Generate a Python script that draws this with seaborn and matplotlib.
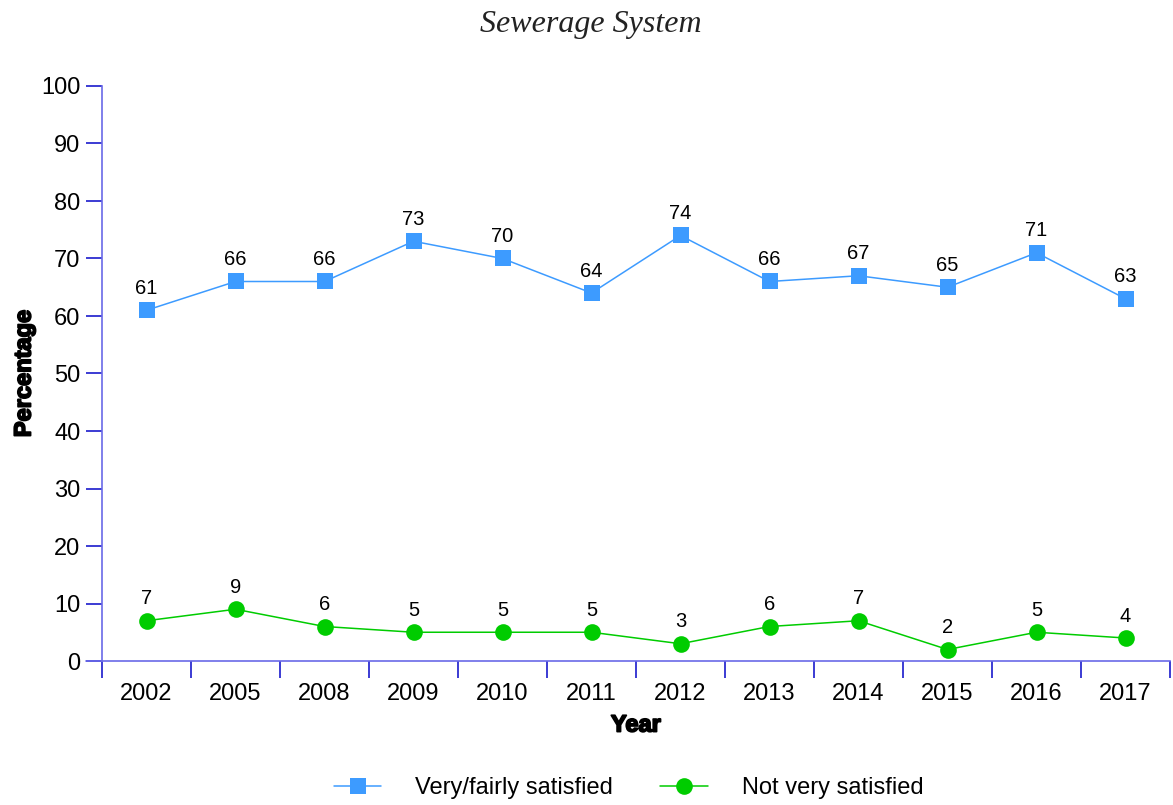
import matplotlib
matplotlib.use("Agg")
import matplotlib.pyplot as plt
import matplotlib.patheffects as pe
import seaborn as sns
import numpy as np
from matplotlib.lines import Line2D

years = ["2002", "2005", "2008", "2009", "2010", "2011", "2012", "2013", "2014", "2015", "2016", "2017"]
satisfied = [61, 66, 66, 73, 70, 64, 74, 66, 67, 65, 71, 63]
not_satisfied = [7, 9, 6, 5, 5, 5, 3, 6, 7, 2, 5, 4]
series_names = ["Very/fairly satisfied", "Not very satisfied"]
y_ticks = [0, 10, 20, 30, 40, 50, 60, 70, 80, 90, 100]

sns.set_theme(style="white")
plt.rcParams['font.family'] = ['Liberation Sans', 'DejaVu Sans']
plt.rcParams['text.color'] = 'black'
plt.rcParams['axes.labelcolor'] = 'black'
plt.rcParams['xtick.color'] = 'black'
plt.rcParams['ytick.color'] = 'black'

fig = plt.figure(figsize=(11.73, 8.05), dpi=100)
ax = fig.add_axes([102/1173, 1-661/805, (1170-102)/1173, (661-86)/805])

pos = np.arange(len(years))
blue = "#3d9bff"
green = "#00cc00"
spine_c = "#6a6ae8"
tick_c = "#1a1acc"

sns.lineplot(x=pos, y=satisfied, ax=ax, color=blue, marker="s", markersize=11,
             markeredgewidth=0, linewidth=1.1, label=series_names[0], legend=False)
sns.lineplot(x=pos, y=not_satisfied, ax=ax, color=green, marker="o", markersize=12,
             markeredgewidth=0, linewidth=1.1, label=series_names[1], legend=False)

for series in (satisfied, not_satisfied):
    for xi, v in zip(pos, series):
        ax.annotate(str(v), (xi, v), xytext=(0, 9), textcoords="offset points",
                    ha="center", va="bottom", fontsize=14.5, color="black")

ax.set_xlim(-0.5, len(years) - 0.5)
ax.set_ylim(0, 100)
ax.set_yticks(y_ticks)
ax.set_yticklabels([str(t) for t in y_ticks], fontsize=17)
ax.set_xticks(np.arange(-0.5, len(years), 1))
ax.set_xticklabels([])
ax.set_xticks(pos, minor=True)
ax.set_xticklabels(years, minor=True, fontsize=17)
ax.tick_params(axis="x", which="major", direction="out", length=12, width=1.2, color=tick_c, bottom=True)
ax.tick_params(axis="x", which="minor", length=0, pad=16, bottom=True, labelcolor="black")
ax.tick_params(axis="y", direction="out", length=11.5, width=1.2, color=tick_c, left=True, pad=4,
               labelcolor="black")

for s in ["top", "right"]:
    ax.spines[s].set_visible(False)
for s in ["left", "bottom"]:
    ax.spines[s].set_color(spine_c)
    ax.spines[s].set_linewidth(1.2)

# extend x-axis line to the left like the reference
ax.add_line(Line2D([-16/1068, 0], [0, 0], transform=ax.transAxes, color=spine_c,
                   linewidth=1.2, clip_on=False))

heavy = [pe.withStroke(linewidth=1.3, foreground="black")]
ax.set_ylabel("Percentage", fontsize=17, fontweight="bold", labelpad=4, color="black",
              path_effects=heavy)
ax.set_xlabel("Year", fontsize=17, fontweight="bold", labelpad=6, color="black",
              path_effects=heavy)

fig.suptitle("Sewerage System", x=0.504, y=0.987, fontsize=23, style="italic",
             family=["Liberation Serif", "DejaVu Serif"], color="#222222")

handles = [Line2D([], [], color=blue, marker="s", markersize=11, markeredgewidth=0, linewidth=1.1),
           Line2D([], [], color=green, marker="o", markersize=12, markeredgewidth=0, linewidth=1.1)]
fig.legend(handles, series_names, loc="center", bbox_to_anchor=(0.536, 0.021), ncol=2,
           frameon=False, fontsize=17, handlelength=2.0, handletextpad=1.45, columnspacing=2.0)

fig.savefig("out.png", dpi=100)
